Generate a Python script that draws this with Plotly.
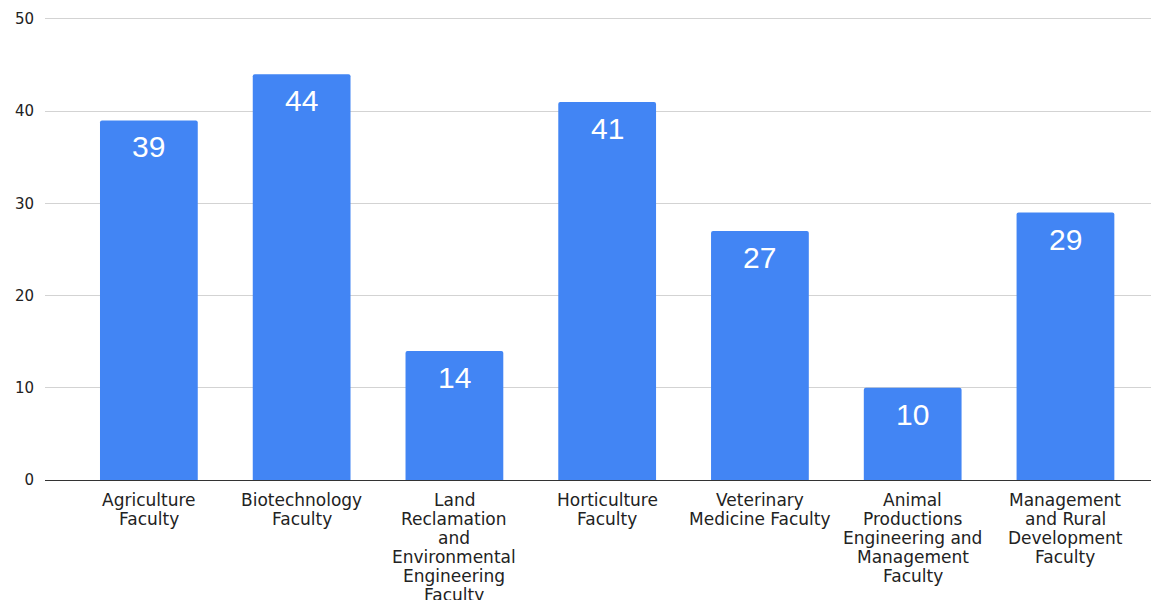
import plotly.graph_objects as go

# Faculties (wrapped as they are printed under each bar) and their counts
categories = [
    "Agriculture Faculty",
    "Biotechnology Faculty",
    "Land Reclamation and Environmental Engineering Faculty",
    "Horticulture Faculty",
    "Veterinary Medicine Faculty",
    "Animal Productions Engineering and Management Faculty",
    "Management and Rural Development Faculty",
]
label_lines = [
    ["Agriculture", "Faculty"],
    ["Biotechnology", "Faculty"],
    ["Land", "Reclamation", "and", "Environmental", "Engineering", "Faculty"],
    ["Horticulture", "Faculty"],
    ["Veterinary", "Medicine Faculty"],
    ["Animal", "Productions", "Engineering and", "Management", "Faculty"],
    ["Management", "and Rural", "Development", "Faculty"],
]
values = [39, 44, 14, 41, 27, 10, 29]
y_ticks = [0, 10, 20, 30, 40, 50]

BAR_COLOR = "#4285F4"
TEXT_COLOR = "#222222"
AXIS_FONT = "DejaVu Sans"
VALUE_FONT = "Liberation Sans, Arial, sans-serif"
LINE_PITCH = 19

fig = go.Figure(
    go.Bar(
        x=categories,
        y=values,
        marker=dict(color=BAR_COLOR, line=dict(width=0), cornerradius=2),
        width=0.64,
        hoverinfo="x+y",
    )
)

annotations = []
# value labels inside the top of each bar
for cat, val in zip(categories, values):
    annotations.append(
        dict(
            x=cat, y=val, xref="x", yref="y",
            text=str(val), showarrow=False,
            yanchor="top", xanchor="center", yshift=-8,
            font=dict(family=VALUE_FONT, size=30, color="white"),
        )
    )
# category labels, one line at a time for a tight line pitch
for cat, lines in zip(categories, label_lines):
    for j, line in enumerate(lines):
        annotations.append(
            dict(
                x=cat, y=0, xref="x", yref="y",
                text=line, showarrow=False,
                yanchor="top", xanchor="center",
                yshift=-8 - j * LINE_PITCH,
                font=dict(family=AXIS_FONT, size=17, color=TEXT_COLOR),
            )
        )

fig.update_layout(
    width=1151,
    height=600,
    margin=dict(l=45, r=0, t=13, b=120),
    paper_bgcolor="white",
    plot_bgcolor="white",
    showlegend=False,
    bargap=0.36,
    annotations=annotations,
    xaxis=dict(
        type="category",
        range=[-0.68, 6.56],
        showticklabels=False,
        showgrid=False,
        zeroline=False,
        showline=False,
        ticks="",
    ),
    yaxis=dict(
        # headroom above 50 so its gridline is not dropped at the edge
        range=[0, 50.65],
        tickvals=y_ticks,
        ticktext=[str(t) for t in y_ticks],
        showgrid=True,
        gridcolor="#d3d3d3",
        gridwidth=1,
        zeroline=True,
        zerolinecolor="#333333",
        zerolinewidth=1,
        showline=False,
        ticks="",
        ticklabelstandoff=10,
        tickfont=dict(family=AXIS_FONT, size=15, color=TEXT_COLOR),
        automargin=False,
    ),
)

fig.write_html("out.html")
